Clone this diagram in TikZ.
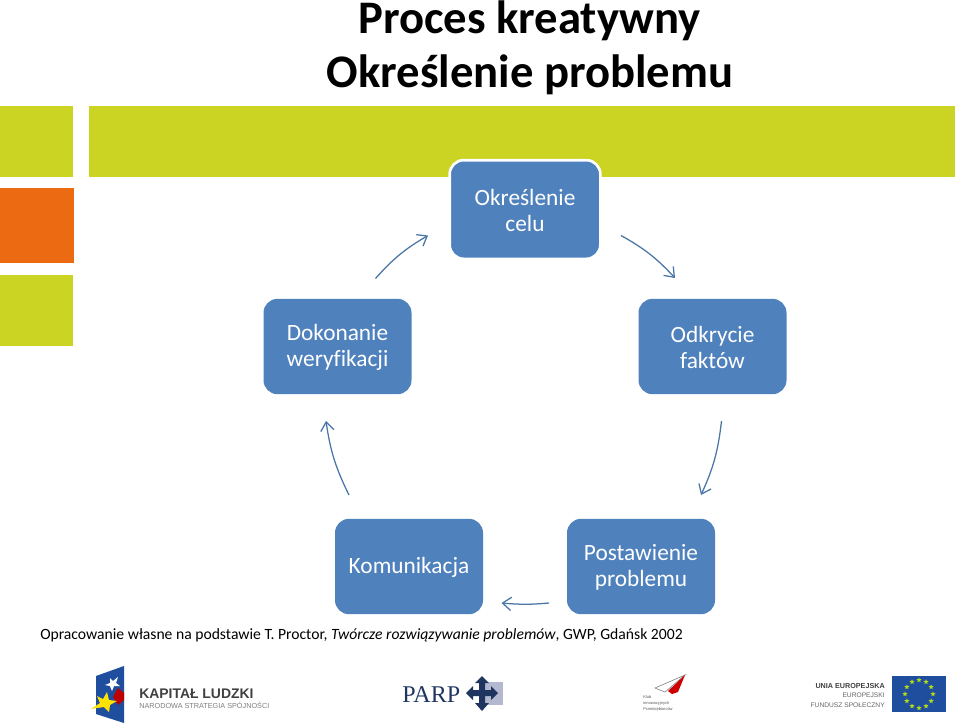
\documentclass[tikz,border=0pt]{standalone}
\usepackage{fontspec}
\setmainfont[Ligatures=NoCommon]{Carlito}
\newfontfamily\lib{Liberation Sans}
\newfontfamily\ser{Liberation Serif}
\usetikzlibrary{arrows.meta,shapes.geometric}
\definecolor{boxblue}{HTML}{4F81BD}
\definecolor{arrowblue}{HTML}{4A76A8}
\definecolor{lime}{HTML}{CBD423}
\definecolor{orng}{HTML}{EC6A12}
\definecolor{eublue}{HTML}{1F4E9E}
\definecolor{parpblue}{HTML}{1F3560}
\definecolor{parplight}{HTML}{B4B9CF}
\newcommand\lowr[1]{\raisebox{-0.8pt}[\height][\depth]{#1}}
\tikzset{
  x=0.75pt,y=-0.75pt,
  proc/.style={fill=boxblue,rounded corners=10.5pt,minimum width=111pt,minimum height=71.5pt,inner sep=0pt,align=center,text=white,font=\fontsize{17.5pt}{19.5pt}\selectfont},
  flow/.style={draw=arrowblue,line width=0.95pt,-{Straight Barb[length=6.5pt,width=10pt,line width=0.95pt]}},
  ttl/.style={inner sep=0pt,font=\fontsize{35pt}{40pt}\selectfont\bfseries,anchor=base},
}
\begin{document}
\begin{tikzpicture}
\useasboundingbox (0,0) rectangle (960,726);
\fill[white] (0,0) rectangle (960,726);
% colour bands
\fill[lime] (0,106) rectangle (73,177);
\fill[lime] (89,106) rectangle (955,177);
\fill[orng] (0,188) rectangle (74,263);
\fill[lime] (0,275) rectangle (73,346);
% title
\node[ttl] (t1) at (529.5,33) {Proces kreatywny};
\node[ttl] (t2) at (530,87.5) {Określenie problemu};
% boxes
\node[proc,draw=white,line width=2pt,minimum width=113pt,minimum height=74pt] (cel) at (525,209.5) {\lowr{Określenie}\\\lowr{celu}};
\node[proc] (wer) at (337.5,346.5) {\lowr{Dokonanie}\\\lowr{weryfikacji}};
\node[proc] (fak) at (712.5,346.5) {\lowr{Odkrycie}\\\lowr{faktów}};
\node[proc] (kom) at (409,566.5) {\lowr{Komunikacja}};
\node[proc] (pos) at (641,566.5) {\lowr{Postawienie}\\\lowr{problemu}};
% connector free ends
\coordinate (a1) at (375.5,278.5); \coordinate (a2) at (428,235.5);
\coordinate (b1) at (621,235.5);   \coordinate (b2) at (675,278);
\coordinate (c1) at (721.5,421);   \coordinate (c2) at (701,495);
\coordinate (d1) at (549,603);     \coordinate (d2) at (501.5,603);
\coordinate (e1) at (349,495);     \coordinate (e2) at (326,421);
\draw[flow] (a1) to[bend left=9] (a2);
\draw[flow] (b1) to[bend left=9] (b2);
\draw[flow] (c1) to[bend left=9] (c2);
\draw[flow] (d1) to[bend left=5] (d2);
\draw[flow] (e1) to[bend left=9] (e2);
% source
\node[anchor=base west,inner sep=0pt,font=\fontsize{11.74pt}{15pt}\selectfont] (src) at (40,639) {Opracowanie własne na podstawie T. Proctor, \textit{Twórcze rozwiązywanie problemów}, GWP, Gdańsk 2002};
% Kapital Ludzki logo
\fill[eublue] (96,676) -- (124,666) -- (124,723) -- (96,714) -- cycle;
\fill[white] (110,678) -- (113,681) -- (118,677) -- (116,683) -- (120,686) -- (114,686) -- (112,691) -- (110,686) -- (105,685) -- (110,683) -- cycle;
\fill[red!75!black] (118,688) -- (124,693) -- (124,700) -- (118,705) -- (113,697) -- cycle;
\fill[yellow!85!orange] (107,692) -- (109,700) -- (117,701) -- (110,705) -- (109,712) -- (104,707) -- (91,709) -- (100,703) -- (97,696) -- (103,699) -- cycle;
\node[anchor=base west,inner sep=0pt,font=\lib\fontsize{10.45pt}{13pt}\selectfont\bfseries,text=black!75] (kl) at (139,698) {KAPITAŁ LUDZKI};
\node[anchor=base west,inner sep=0pt,font=\lib\fontsize{5.45pt}{7pt}\selectfont,text=black!50] (ns) at (139,708) {NARODOWA STRATEGIA SPÓJNOŚCI};
% PARP logo
\node[anchor=base west,inner sep=0pt,font=\ser\fontsize{18pt}{20pt}\selectfont,text=parpblue] (parp) at (402,702) {PARP};
\fill[parplight] (482,682) rectangle (503,705);
\fill[parpblue] (482,676) -- (489,683) -- (485,683) -- (485,690) -- (491,690) -- (491,686) -- (498,693) -- (491,700) -- (491,696) -- (485,696) -- (485,703) -- (489,703) -- (482,711) -- (475,703) -- (479,703) -- (479,696) -- (473,696) -- (473,700) -- (466,693) -- (473,686) -- (473,690) -- (479,690) -- (479,683) -- (475,683) -- cycle;
% Klub logo
\draw[black!45,line width=0.5pt] (655,688) -- (685,675) -- (665,692) -- (660,690) -- cycle;
\fill[red!80!black] (685,675) -- (678,692) -- (672,694) -- (668,691) -- cycle;
\foreach \n/\y/\t in {ka/698.5/Klub,kb/704/innowacyjnych,kc/710/Przedsiębiorców}{
  \node[anchor=base west,inner sep=0pt,font=\lib\fontsize{3pt}{4pt}\selectfont,text=black!65] (\n) at (643,\y) {\t};
}
% EU logo
\node[anchor=base east,inner sep=0pt,font=\lib\fontsize{5.4pt}{7pt}\selectfont\bfseries,text=black!75] (ue) at (885,688) {UNIA EUROPEJSKA};
\node[anchor=base east,inner sep=0pt,font=\lib\fontsize{5pt}{7pt}\selectfont,text=black!60] (ee) at (885,697) {EUROPEJSKI};
\node[anchor=base east,inner sep=0pt,font=\lib\fontsize{5pt}{7pt}\selectfont,text=black!60] (ef) at (885,707) {FUNDUSZ SPOŁECZNY};
\fill[eublue] (892,676) rectangle (946,712);
\foreach \a in {0,30,...,330}{
  \node[star,star points=5,star point ratio=2.2,fill=yellow!70!green,inner sep=0pt,minimum size=4pt] at ({919+14*cos(\a)},{694+14*sin(\a)}) {};
}
\end{tikzpicture}
\end{document}
